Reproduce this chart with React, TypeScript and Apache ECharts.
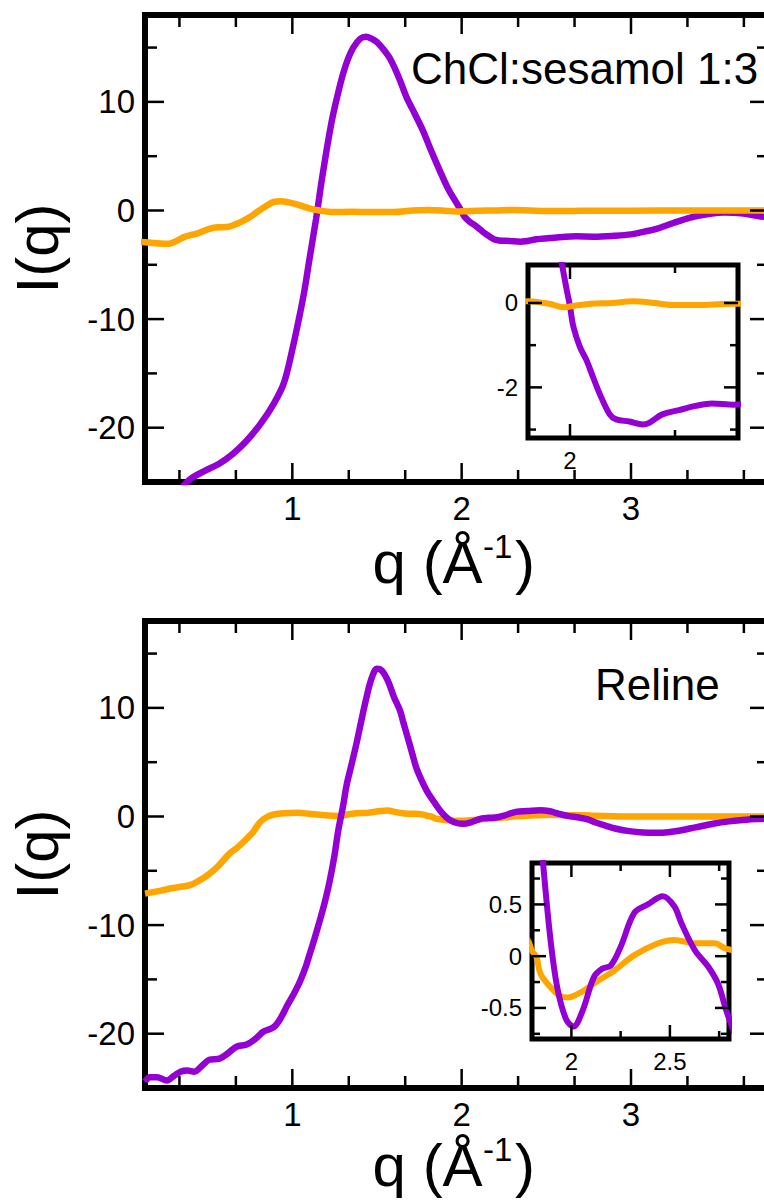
import React, { useEffect, useRef } from "react";
import * as echarts from "echarts";

type Pt = [number, number];

const FONT = '"Liberation Sans", Arial, Helvetica, sans-serif';
const PURPLE = "#9400D3";
const ORANGE = "#FFA500";

// ---- Data: ChCl:sesamol 1:3 (top panel) ----
const topPurple: Pt[] = [
  [0.35, -25.5], [0.4, -24.7], [0.48, -24.0], [0.57, -23.3], [0.65, -22.4], [0.73, -21.2],
  [0.81, -19.7], [0.89, -17.8], [0.95, -15.9], [1.0, -12.8], [1.04, -9.9], [1.07, -7.5],
  [1.1, -4.6], [1.14, -0.8], [1.18, 3.4], [1.23, 8.0], [1.27, 10.8], [1.3, 12.6], [1.33, 14.0],
  [1.36, 15.0], [1.4, 15.8], [1.435, 16.0], [1.47, 15.8], [1.5, 15.5], [1.54, 14.8], [1.58, 13.9],
  [1.63, 12.2], [1.675, 10.4], [1.72, 9.0], [1.77, 7.4], [1.82, 5.5], [1.87, 3.7], [1.92, 2.0],
  [1.966, 0.8], [1.984, 0.32], [2.0, -0.08], [2.016, -0.56], [2.047, -1.04], [2.079, -1.36],
  [2.11, -1.76], [2.142, -2.16], [2.189, -2.64], [2.22, -2.76], [2.283, -2.81], [2.346, -2.88],
  [2.377, -2.84], [2.44, -2.64], [2.519, -2.54], [2.598, -2.44], [2.676, -2.38], [2.778, -2.41],
  [2.9, -2.33], [3.0, -2.2], [3.08, -1.95], [3.15, -1.7], [3.25, -1.15], [3.35, -0.65],
  [3.45, -0.35], [3.55, -0.18], [3.65, -0.25], [3.75, -0.5], [3.85, -0.7],
];
const topOrange: Pt[] = [
  [0.1, -2.9], [0.15, -2.95], [0.22, -3.05], [0.27, -3.07], [0.31, -2.85], [0.36, -2.45],
  [0.44, -2.1], [0.51, -1.7], [0.56, -1.55], [0.61, -1.53], [0.66, -1.3], [0.71, -0.95],
  [0.75, -0.6], [0.8, -0.05], [0.85, 0.46], [0.89, 0.8], [0.93, 0.86], [0.98, 0.75], [1.05, 0.45],
  [1.1, 0.2], [1.16, 0.0], [1.24, -0.15], [1.35, -0.12], [1.48, -0.15], [1.6, -0.15], [1.71, 0.0],
  [1.8, 0.04], [1.9, -0.02], [1.97, -0.1], [2.03, -0.06], [2.1, -0.02], [2.2, 0.0], [2.3, 0.04],
  [2.4, 0.0], [2.5, -0.05], [2.6, -0.05], [2.7, -0.03], [2.8, -0.02], [3.0, -0.02], [3.3, 0.0],
  [3.6, 0.0], [3.85, 0.0],
];

// ---- Data: Reline (bottom panel) ----
const bottomPurple: Pt[] = [
  [0.13, -24.4], [0.16, -24.0], [0.2, -24.0], [0.26, -24.3], [0.3, -23.9], [0.34, -23.5],
  [0.38, -23.4], [0.42, -23.5], [0.47, -22.9], [0.51, -22.4], [0.57, -22.3], [0.62, -21.8],
  [0.67, -21.2], [0.73, -21.0], [0.78, -20.5], [0.83, -19.8], [0.89, -19.4], [0.93, -18.6],
  [0.97, -17.4], [1.01, -16.3], [1.045, -15.2], [1.08, -13.8], [1.1, -12.8], [1.13, -11.3],
  [1.16, -9.7], [1.19, -8.0], [1.22, -6.0], [1.25, -3.5], [1.27, -1.4], [1.3, 1.0], [1.32, 2.85],
  [1.35, 4.8], [1.38, 6.8], [1.41, 9.0], [1.44, 11.1], [1.47, 12.8], [1.5, 13.6], [1.53, 13.4],
  [1.567, 12.4], [1.6, 11.0], [1.636, 9.75], [1.655, 8.7], [1.69, 6.8], [1.714, 5.46],
  [1.734, 4.4], [1.773, 3.0], [1.8, 2.2], [1.83, 1.5], [1.857, 0.88], [1.894, 0.157],
  [1.928, -0.3], [1.971, -0.6], [2.01, -0.68], [2.056, -0.53], [2.115, -0.2], [2.158, -0.12],
  [2.2, -0.09], [2.25, 0.09], [2.32, 0.42], [2.388, 0.5], [2.464, 0.58], [2.523, 0.48],
  [2.558, 0.32], [2.626, 0.06], [2.694, -0.1], [2.745, -0.27], [2.787, -0.53], [2.85, -0.85],
  [2.92, -1.15], [2.99, -1.35], [3.07, -1.47], [3.15, -1.5], [3.22, -1.45], [3.29, -1.29],
  [3.38, -1.0], [3.485, -0.67], [3.58, -0.45], [3.68, -0.3], [3.78, -0.21], [3.85, -0.15],
];
const bottomOrange: Pt[] = [
  [0.13, -7.1], [0.2, -6.9], [0.26, -6.7], [0.33, -6.5], [0.4, -6.3], [0.45, -5.9], [0.5, -5.4],
  [0.56, -4.6], [0.63, -3.4], [0.68, -2.8], [0.73, -2.05], [0.77, -1.4], [0.81, -0.52],
  [0.85, -0.05], [0.89, 0.18], [0.95, 0.3], [1.03, 0.34], [1.1, 0.25], [1.16, 0.16], [1.22, 0.1],
  [1.28, 0.03], [1.33, 0.2], [1.38, 0.3], [1.45, 0.35], [1.52, 0.5], [1.56, 0.55], [1.62, 0.38],
  [1.68, 0.25], [1.73, 0.25], [1.78, 0.15], [1.8, 0.05], [1.823, -0.01], [1.843, -0.17],
  [1.894, -0.3], [1.94, -0.38], [1.98, -0.4], [2.047, -0.35], [2.133, -0.24], [2.217, -0.14],
  [2.32, 0.01], [2.44, 0.125], [2.523, 0.157], [2.626, 0.125], [2.728, 0.125], [2.78, 0.076],
  [2.9, 0.03], [3.1, 0.0], [3.4, 0.0], [3.85, 0.0],
];

// ---- Tick values ----
const mainXMajor = [1, 2, 3];
const mainXMinor = [1 / 3, 2 / 3, 4 / 3, 5 / 3, 7 / 3, 8 / 3, 10 / 3, 11 / 3];
const mainYMajor = [-20, -10, 0, 10];
const mainYMinor = [-15, -5, 5, 15];
const inset1XMajor = [2];
const inset1XMinor = [2.5];
const inset1YMajor = [-2, 0];
const inset1YMinor = [-3, -1];
const inset2XMajor = [2, 2.5];
const inset2XMinor = [2.25, 2.75];
const inset2YMajor = [-0.5, 0, 0.5];
const inset2YMinor = [-0.75, -0.25, 0.25, 0.75];

const MAIN_X_RANGE: [number, number] = [0.13, 3.815];
const MAIN_Y_RANGE: [number, number] = [-25, 18];
const INSET_X_RANGE: [number, number] = [1.8, 2.8];
const INSET1_Y_RANGE: [number, number] = [-3.2, 0.9];
const INSET2_Y_RANGE: [number, number] = [-0.8, 0.9];

type AxisCfg = { majorLen: number; minorLen: number; fontSize: number; margin: number };
const MAIN_AX: AxisCfg = { majorLen: 19, minorLen: 12, fontSize: 33, margin: 10 };
const INSET_AX: AxisCfg = { majorLen: 14, minorLen: 8, fontSize: 24, margin: 10 };

function labelAxis(gridIndex: number, range: [number, number], pos: string, labels: number[], s: AxisCfg) {
  return {
    type: "value",
    gridIndex,
    position: pos,
    min: range[0],
    max: range[1],
    splitLine: { show: false },
    axisLine: { show: false, onZero: false },
    axisTick: { show: false },
    axisLabel: {
      show: true,
      customValues: labels,
      fontSize: s.fontSize,
      margin: s.margin,
      color: "#000",
      fontFamily: FONT,
    },
  };
}

// Tick marks on all four sides, placed through the axes' own scales (api.coord)
function tickSeries(
  gridIndex: number,
  xr: [number, number],
  yr: [number, number],
  xMajor: number[],
  xMinor: number[],
  yMajor: number[],
  yMinor: number[],
  s: AxisCfg
) {
  const data = [
    ...xMajor.map((v) => [v, 0]),
    ...xMinor.map((v) => [v, 1]),
    ...yMajor.map((v) => [v, 2]),
    ...yMinor.map((v) => [v, 3]),
  ];
  return {
    type: "custom",
    xAxisIndex: gridIndex,
    yAxisIndex: gridIndex,
    data,
    silent: true,
    z: 5,
    encode: { x: 0 },
    renderItem: (params: any, api: any) => {
      const v = api.value(0);
      const kind = api.value(1);
      const cs = params.coordSys;
      const len = kind % 2 === 0 ? s.majorLen : s.minorLen;
      const style = { stroke: "#000", lineWidth: 2.5 };
      if (kind < 2) {
        const px = api.coord([v, yr[0]])[0];
        const b = cs.y + cs.height;
        return {
          type: "group",
          children: [
            { type: "line", shape: { x1: px, y1: b, x2: px, y2: b - len }, style },
            { type: "line", shape: { x1: px, y1: cs.y, x2: px, y2: cs.y + len }, style },
          ],
        };
      }
      const py = api.coord([xr[0], v])[1];
      const r = cs.x + cs.width;
      return {
        type: "group",
        children: [
          { type: "line", shape: { x1: cs.x, y1: py, x2: cs.x + len, y2: py }, style },
          { type: "line", shape: { x1: r, y1: py, x2: r - len, y2: py }, style },
        ],
      };
    },
  };
}

function lineSeries(data: Pt[], color: string, idx: number, width: number) {
  return {
    type: "line",
    data,
    xAxisIndex: idx,
    yAxisIndex: idx,
    showSymbol: false,
    symbol: "none",
    smooth: 0.35,
    silent: true,
    lineStyle: { color, width },
    itemStyle: { color },
  };
}

function txt(text: string, x: number, y: number, fontSize: number, rotation = 0, align = "left") {
  return {
    type: "text",
    x,
    y,
    rotation,
    style: { text, fontSize, fontFamily: FONT, fill: "#000", align, verticalAlign: "middle" },
  };
}

// x-axis title: "q (Å" + superscript "-1" + ")"
function xTitle(axisY: number) {
  const base = axisY + 101.3;
  const mid = base - 20.8;
  const supMid = base - 25 - 11.4;
  return [txt("q (Å", 372.6, mid, 60), txt("-1", 483, supMid, 33), txt(")", 515, mid, 60)];
}

export default function App() {
  const ref = useRef<HTMLDivElement>(null);

  useEffect(() => {
    if (!ref.current) return;
    const chart = echarts.init(ref.current, null, { renderer: "svg" });

    const grids = [
      { left: 145, top: 15, width: 624, height: 467 },
      { left: 145, top: 621, width: 624, height: 467 },
      { left: 528, top: 265, width: 210, height: 173 },
      { left: 532, top: 863, width: 197, height: 176 },
    ].map((g, i) => ({
      ...g,
      show: true,
      backgroundColor: "#fff",
      borderColor: "#000",
      borderWidth: i < 2 ? 6 : 5,
    }));

    const xAxis = [
      labelAxis(0, MAIN_X_RANGE, "bottom", mainXMajor, MAIN_AX),
      labelAxis(1, MAIN_X_RANGE, "bottom", mainXMajor, MAIN_AX),
      labelAxis(2, INSET_X_RANGE, "bottom", inset1XMajor, INSET_AX),
      labelAxis(3, INSET_X_RANGE, "bottom", inset2XMajor, INSET_AX),
    ];
    const yAxis = [
      labelAxis(0, MAIN_Y_RANGE, "left", mainYMajor, MAIN_AX),
      labelAxis(1, MAIN_Y_RANGE, "left", mainYMajor, MAIN_AX),
      labelAxis(2, INSET1_Y_RANGE, "left", inset1YMajor, INSET_AX),
      labelAxis(3, INSET2_Y_RANGE, "left", inset2YMajor, INSET_AX),
    ];

    const series = [
      lineSeries(topPurple, PURPLE, 0, 6.5),
      lineSeries(topOrange, ORANGE, 0, 6.5),
      lineSeries(bottomOrange, ORANGE, 1, 6.5),
      lineSeries(bottomPurple, PURPLE, 1, 6.5),
      lineSeries(topPurple, PURPLE, 2, 6),
      lineSeries(topOrange, ORANGE, 2, 6),
      lineSeries(bottomOrange, ORANGE, 3, 6),
      lineSeries(bottomPurple, PURPLE, 3, 6),
      tickSeries(0, MAIN_X_RANGE, MAIN_Y_RANGE, mainXMajor, mainXMinor, mainYMajor, mainYMinor, MAIN_AX),
      tickSeries(1, MAIN_X_RANGE, MAIN_Y_RANGE, mainXMajor, mainXMinor, mainYMajor, mainYMinor, MAIN_AX),
      tickSeries(2, INSET_X_RANGE, INSET1_Y_RANGE, inset1XMajor, inset1XMinor, inset1YMajor, inset1YMinor, INSET_AX),
      tickSeries(3, INSET_X_RANGE, INSET2_Y_RANGE, inset2XMajor, inset2XMinor, inset2YMajor, inset2YMinor, INSET_AX),
    ];

    chart.setOption({
      animation: false,
      grid: grids,
      xAxis,
      yAxis,
      series,
      graphic: [
        txt("I(q)", 37.5, 248.5, 60, Math.PI / 2, "center"),
        txt("I(q)", 37.5, 854.5, 60, Math.PI / 2, "center"),
        ...xTitle(482),
        ...xTitle(1085),
        txt("ChCl:sesamol 1:3", 411, 68.8, 44),
        txt("Reline", 595, 684.8, 44),
      ],
    });

    return () => chart.dispose();
  }, []);

  return (
    <div
      style={{
        position: "absolute",
        left: 0,
        top: 0,
        width: 764,
        height: 1200,
        overflow: "hidden",
        background: "#fff",
      }}
    >
      <div ref={ref} style={{ width: 790, height: 1200 }} />
    </div>
  );
}
